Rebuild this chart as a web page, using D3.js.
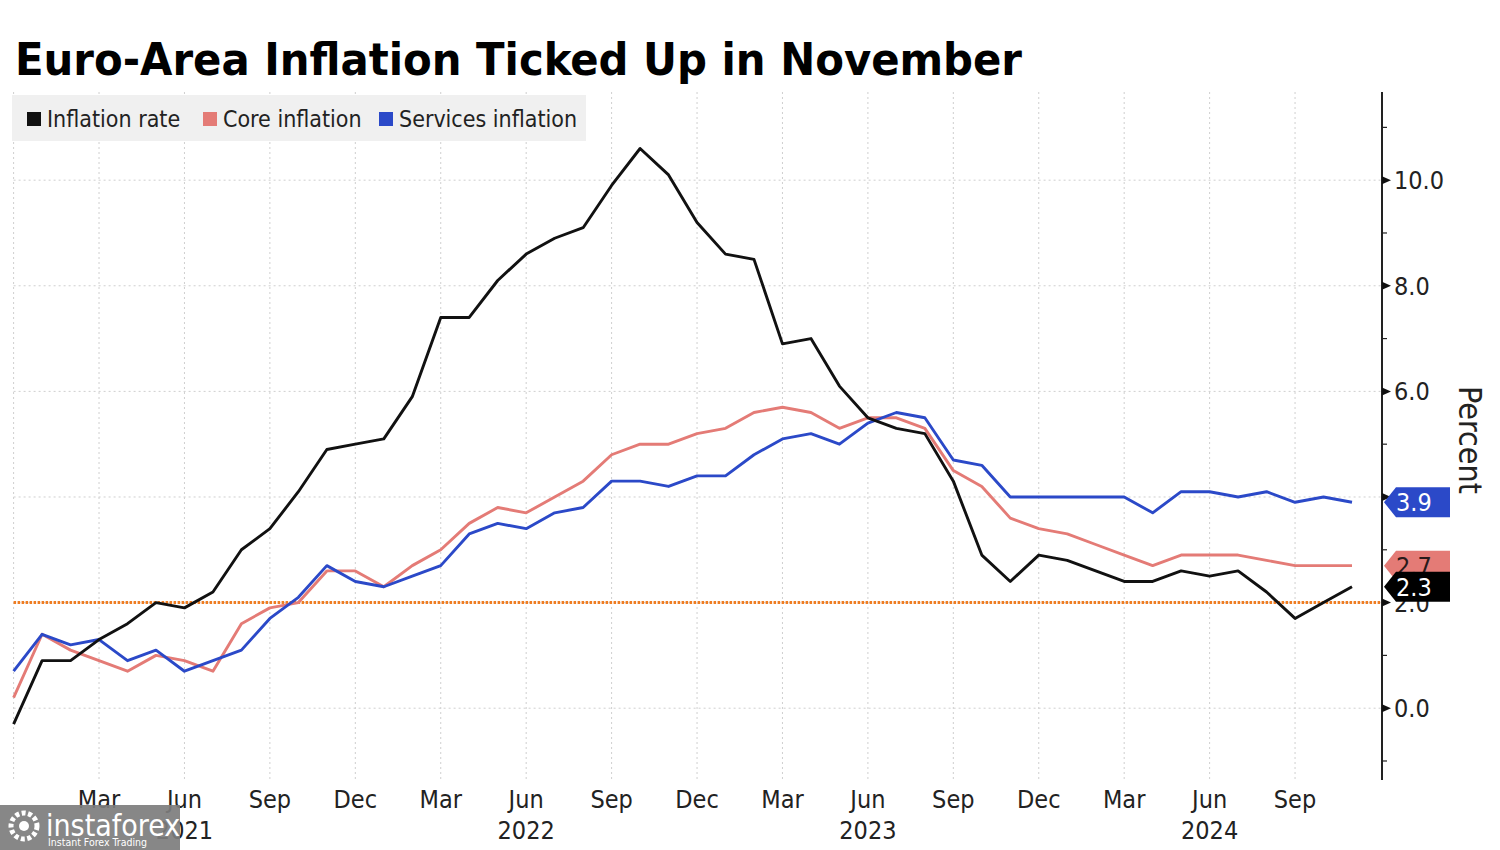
<!DOCTYPE html>
<html>
<head>
<meta charset="utf-8">
<script src="https://cdn.jsdelivr.net/npm/d3@7"></script>
<style>
  html, body { margin: 0; padding: 0; background: #fff; }
  svg { display: block; }
  text { font-family: "DejaVu Sans Condensed", "DejaVu Sans", sans-serif; font-stretch: condensed; }
</style>
</head>
<body>
<svg id="chart" width="1500" height="850"></svg>
<script>
// ---------------- DATA ----------------
const months = [
  "2020-12",
  "2021-01","2021-02","2021-03","2021-04","2021-05","2021-06","2021-07","2021-08","2021-09","2021-10","2021-11","2021-12",
  "2022-01","2022-02","2022-03","2022-04","2022-05","2022-06","2022-07","2022-08","2022-09","2022-10","2022-11","2022-12",
  "2023-01","2023-02","2023-03","2023-04","2023-05","2023-06","2023-07","2023-08","2023-09","2023-10","2023-11","2023-12",
  "2024-01","2024-02","2024-03","2024-04","2024-05","2024-06","2024-07","2024-08","2024-09","2024-10","2024-11"
];
const inflationRate = [
  -0.3,
  0.9, 0.9, 1.3, 1.6, 2.0, 1.9, 2.2, 3.0, 3.4, 4.1, 4.9, 5.0,
  5.1, 5.9, 7.4, 7.4, 8.1, 8.6, 8.9, 9.1, 9.9, 10.6, 10.1, 9.2,
  8.6, 8.5, 6.9, 7.0, 6.1, 5.5, 5.3, 5.2, 4.3, 2.9, 2.4, 2.9,
  2.8, 2.6, 2.4, 2.4, 2.6, 2.5, 2.6, 2.2, 1.7, 2.0, 2.3
];
const coreInflation = [
  0.2,
  1.4, 1.1, 0.9, 0.7, 1.0, 0.9, 0.7, 1.6, 1.9, 2.0, 2.6, 2.6,
  2.3, 2.7, 3.0, 3.5, 3.8, 3.7, 4.0, 4.3, 4.8, 5.0, 5.0, 5.2,
  5.3, 5.6, 5.7, 5.6, 5.3, 5.5, 5.5, 5.3, 4.5, 4.2, 3.6, 3.4,
  3.3, 3.1, 2.9, 2.7, 2.9, 2.9, 2.9, 2.8, 2.7, 2.7, 2.7
];
const servicesInflation = [
  0.7,
  1.4, 1.2, 1.3, 0.9, 1.1, 0.7, 0.9, 1.1, 1.7, 2.1, 2.7, 2.4,
  2.3, 2.5, 2.7, 3.3, 3.5, 3.4, 3.7, 3.8, 4.3, 4.3, 4.2, 4.4,
  4.4, 4.8, 5.1, 5.2, 5.0, 5.4, 5.6, 5.5, 4.7, 4.6, 4.0, 4.0,
  4.0, 4.0, 4.0, 3.7, 4.1, 4.1, 4.0, 4.1, 3.9, 4.0, 3.9
];
const seriesNames = ["Inflation rate", "Core inflation", "Services inflation"];
const seriesColors = ["#111111", "#e47b76", "#2b49c8"];
const xTickMonths = ["2020-12","2021-03","2021-06","2021-09","2021-12","2022-03","2022-06","2022-09","2022-12","2023-03","2023-06","2023-09","2023-12","2024-03","2024-06","2024-09"];
const xTickLabels = ["","Mar","Jun","Sep","Dec","Mar","Jun","Sep","Dec","Mar","Jun","Sep","Dec","Mar","Jun","Sep"];
const yearMonths = ["2021-06","2022-06","2023-06","2024-06"];
const yearLabels = ["2021","2022","2023","2024"];
const yMajorTicks = [0, 2, 4, 6, 8, 10];
const yLabelTicks = [0, 2, 6, 8, 10]; // 4.0 hidden behind the last-value tag
const yMinorTicks = [-1, 1, 3, 5, 7, 9, 11];
const targetRate = 2.0;
const title = "Euro-Area Inflation Ticked Up in November";

// ---------------- LAYOUT ----------------
const svg = d3.select("#chart");
const plotLeft = 13.6, plotRight = 1352, axisX = 1382;
const x = d3.scaleLinear().domain([0, months.length - 1]).range([plotLeft, plotRight]);
const xm = m => x(months.indexOf(m));
const y = d3.scaleLinear().domain([-1.36, 11.67]).range([780, 92]);

// Title
svg.append("text")
  .attr("x", 15).attr("y", 75)
  .attr("font-size", 45).attr("font-weight", "bold")
  .attr("textLength", 1007).attr("lengthAdjust", "spacingAndGlyphs")
  .attr("fill", "#000")
  .text(title);

// Gridlines
const grid = svg.append("g");
grid.selectAll("line.v").data(xTickMonths).join("line")
  .attr("x1", d => xm(d)).attr("x2", d => xm(d))
  .attr("y1", y.range()[1]).attr("y2", y.range()[0])
  .attr("stroke", "#cfcfcf").attr("stroke-width", 1).attr("stroke-dasharray", "2,3");
grid.selectAll("line.h").data(yMajorTicks).join("line")
  .attr("x1", plotLeft).attr("x2", axisX)
  .attr("y1", d => y(d)).attr("y2", d => y(d))
  .attr("stroke", "#cfcfcf").attr("stroke-width", 1).attr("stroke-dasharray", "2,3");

// Legend
const legend = svg.append("g");
legend.append("rect").attr("x", 12).attr("y", 95).attr("width", 574).attr("height", 46).attr("fill", "#f0f0f0");
const legendX = [27, 203, 379];
seriesNames.forEach((name, i) => {
  legend.append("rect").attr("x", legendX[i]).attr("y", 112).attr("width", 14).attr("height", 14).attr("fill", seriesColors[i]);
  legend.append("text").attr("x", legendX[i] + 20).attr("y", 127).attr("font-size", 23).attr("fill", "#222").text(name);
});

// Target line
svg.append("line")
  .attr("x1", plotLeft).attr("x2", axisX)
  .attr("y1", y(targetRate)).attr("y2", y(targetRate))
  .attr("stroke", "#ef7d22").attr("stroke-width", 3).attr("stroke-dasharray", "2.5,1.5");

// Lines
const lineGen = d3.line().x((d, i) => x(i)).y(d => y(d));
[[coreInflation, 1], [servicesInflation, 2], [inflationRate, 0]].forEach(([s, idx]) => {
  svg.append("path").datum(s)
    .attr("d", lineGen)
    .attr("fill", "none")
    .attr("stroke", seriesColors[idx])
    .attr("stroke-width", 2.9)
    .attr("stroke-linejoin", "round");
});

// Right axis
const ax = svg.append("g");
ax.append("line").attr("x1", axisX).attr("x2", axisX).attr("y1", y.range()[1]).attr("y2", y.range()[0])
  .attr("stroke", "#222").attr("stroke-width", 2);
ax.selectAll("path.maj").data(yMajorTicks).join("path")
  .attr("d", d => `M${axisX},${y(d) - 4} L${axisX + 9},${y(d)} L${axisX},${y(d) + 4} Z`)
  .attr("fill", "#111");
ax.selectAll("line.min").data(yMinorTicks).join("line")
  .attr("x1", axisX).attr("x2", axisX + 5)
  .attr("y1", d => y(d)).attr("y2", d => y(d))
  .attr("stroke", "#222").attr("stroke-width", 1.2);
ax.selectAll("text.yl").data(yLabelTicks).join("text")
  .attr("x", axisX + 12).attr("y", d => y(d)).attr("dy", "0.36em")
  .attr("font-size", 25).attr("fill", "#222")
  .text(d => d3.format(".1f")(d));

svg.append("text")
  .attr("transform", `translate(1459,440) rotate(90)`)
  .attr("text-anchor", "middle")
  .attr("font-size", 32).attr("fill", "#222")
  .text("Percent");

// X axis labels
svg.selectAll("text.xl").data(xTickMonths.filter((d, i) => xTickLabels[i] !== "")).join("text")
  .attr("x", d => xm(d)).attr("y", 808)
  .attr("text-anchor", "middle").attr("font-size", 25).attr("fill", "#222")
  .text(d => xTickLabels[xTickMonths.indexOf(d)]);
svg.selectAll("text.yr").data(yearMonths).join("text")
  .attr("x", d => xm(d)).attr("y", 839)
  .attr("text-anchor", "middle").attr("font-size", 25).attr("fill", "#222")
  .text((d, i) => yearLabels[i]);

// Last-value tags
const lastIdx = months.length - 1;
const tags = [
  { v: servicesInflation[lastIdx], fill: seriesColors[2], text: "#fff" },
  { v: coreInflation[lastIdx], fill: seriesColors[1], text: "#2a1a1a" },
  { v: inflationRate[lastIdx], fill: "#000", text: "#fff" }
];
tags.forEach(t => {
  const cy = y(t.v);
  const g = svg.append("g");
  g.append("path")
    .attr("d", `M${axisX + 2},${cy} L${axisX + 14},${cy - 15} L${axisX + 68},${cy - 15} L${axisX + 68},${cy + 15} L${axisX + 14},${cy + 15} Z`)
    .attr("fill", t.fill);
  g.append("text").attr("x", axisX + 14).attr("y", cy).attr("dy", "0.36em")
    .attr("font-size", 25).attr("fill", t.text).text(d3.format(".1f")(t.v));
});

// Watermark
const wm = svg.append("g");
wm.append("rect").attr("x", 0).attr("y", 805).attr("width", 180).attr("height", 45).attr("fill", "#7d7d7d").attr("opacity", 0.92);
wm.append("circle").attr("cx", 24).attr("cy", 826).attr("r", 13).attr("fill", "none").attr("stroke", "#fff").attr("stroke-width", 5).attr("stroke-dasharray", "4,2.5");
wm.append("circle").attr("cx", 24).attr("cy", 826).attr("r", 5).attr("fill", "#fff");
wm.append("text").attr("x", 46).attr("y", 836).attr("font-size", 30).attr("fill", "#fff")
  .attr("font-family", "Roboto, 'DejaVu Sans', sans-serif").attr("font-weight", 300).text("instaforex");
wm.append("text").attr("x", 48).attr("y", 846).attr("font-size", 10.5).attr("fill", "#fff")
  .attr("font-family", "Roboto, 'DejaVu Sans', sans-serif").text("Instant Forex Trading");
</script>
</body>
</html>
